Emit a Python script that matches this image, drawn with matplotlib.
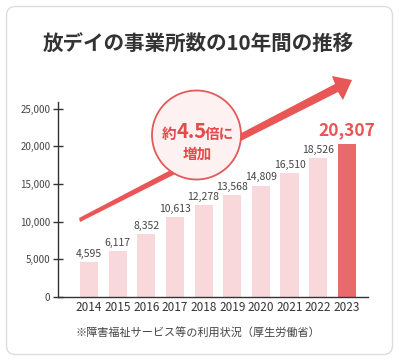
import matplotlib.pyplot as plt
from matplotlib.patches import FancyBboxPatch, Circle, Polygon

plt.rcParams['font.family'] = ['Noto Sans CJK JP', 'DejaVu Sans']

# データ
years = ['2014', '2015', '2016', '2017', '2018', '2019', '2020', '2021', '2022', '2023']
counts = [4595, 6117, 8352, 10613, 12278, 13568, 14809, 16510, 18526, 20307]
yticks = [0, 5000, 10000, 15000, 20000, 25000]

title = '放デイの事業所数の10年間の推移'
note = '※障害福祉サービス等の利用状況（厚生労働省）'

W, H = 399, 361
RED = '#e24c4c'
fig = plt.figure(figsize=(W / 100, H / 100), dpi=100)
fig.patch.set_facecolor('white')

# 背景のカード
bg = fig.add_axes([0, 0, 1, 1], zorder=0)
bg.set_xlim(0, W)
bg.set_ylim(H, 0)
bg.axis('off')
bg.add_patch(FancyBboxPatch((6.5, 6.5), 386, 348, boxstyle='round,pad=0,rounding_size=9',
                            facecolor='white', edgecolor='#dddddd', linewidth=1.0))
bg.text(198, 43, title, ha='center', va='center', fontsize=14.8,
        fontweight='bold', color='#333333')
bg.text(198, 332, note, ha='center', va='center', fontsize=8, color='#444444')

# メイングラフ
ax = fig.add_axes([58 / W, (H - 297) / H, 310 / W, 195 / H], zorder=1)
ax.set_facecolor('none')
x = list(range(len(years)))
colors = ['#f9d8db'] * (len(years) - 1) + ['#e86b6b']
ax.bar(x, counts, width=0.63, color=colors, zorder=2)

for i, v in enumerate(counts[:-1]):
    ax.text(i, v + 400, f'{v:,}', ha='center', va='bottom', fontsize=7.5, color='#444444')
ax.text(x[-1], counts[-1] + 700, f'{counts[-1]:,}', ha='center', va='bottom',
        fontsize=12.5, fontweight='bold', color='#e85555')

ax.set_xlim(-1.08, 9.74)
ax.set_ylim(0, 25900)
ax.set_xticks(x)
ax.set_xticklabels(years, fontsize=8.5, color='#333333')
ax.tick_params(axis='x', length=0, pad=3)
ax.set_yticks(yticks)
ax.set_yticklabels([f'{t:,}' for t in yticks], fontsize=7, color='#444444')
ax.tick_params(axis='y', direction='inout', length=7, width=1, color='#333333', pad=2)
for s in ['top', 'right']:
    ax.spines[s].set_visible(False)
for s in ['left', 'bottom']:
    ax.spines[s].set_color('#333333')
    ax.spines[s].set_linewidth(1.0)

# 矢印と吹き出し（装飾レイヤー）
deco = fig.add_axes([0, 0, 1, 1], zorder=2)
deco.set_xlim(0, W)
deco.set_ylim(H, 0)
deco.axis('off')

deco.add_patch(Polygon([(79, 218), (80, 222), (338, 92), (343, 100), (352, 80),
                        (332, 76), (335, 84)], closed=True,
                       facecolor='#e95656', edgecolor='none'))
deco.add_patch(Circle((196.5, 135), 44.5, facecolor='#fdf1f1', edgecolor='#e25a5a',
                      linewidth=1.3))
deco.text(176, 133.5, '約', ha='right', va='center', fontsize=10.5,
          fontweight='bold', color=RED)
deco.text(176.5, 132, '4.5', ha='left', va='center', fontsize=14.5,
          fontweight='bold', color=RED)
deco.text(205, 133.5, '倍に', ha='left', va='center', fontsize=10.5,
          fontweight='bold', color=RED)
deco.text(197, 154, '増加', ha='center', va='center', fontsize=10.5,
          fontweight='bold', color=RED)

fig.savefig('out.png', dpi=100)
